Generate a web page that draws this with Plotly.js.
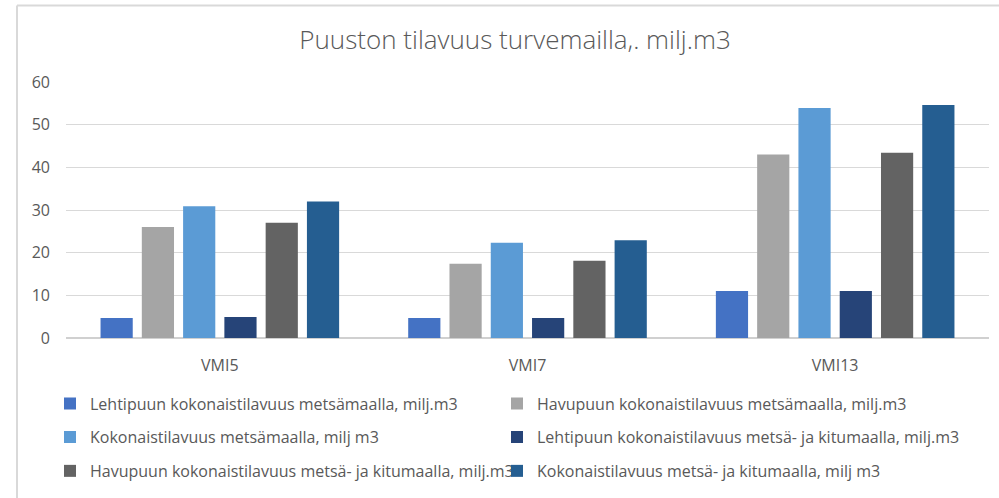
<!DOCTYPE html>
<html>
<head>
<meta charset="utf-8">
<script src="https://cdn.plot.ly/plotly-3.0.1.min.js"></script>
<style>
  html, body { margin: 0; padding: 0; background: #ffffff; }
  #chart { width: 999px; height: 498px; }
</style>
</head>
<body>
<div id="chart"></div>
<script>
const categories = ['VMI5', 'VMI7', 'VMI13'];
const seriesNames = [
  'Lehtipuun kokonaistilavuus metsämaalla, milj.m3',
  'Havupuun kokonaistilavuus metsämaalla, milj.m3',
  'Kokonaistilavuus metsämaalla, milj m3',
  'Lehtipuun kokonaistilavuus metsä- ja kitumaalla, milj.m3',
  'Havupuun kokonaistilavuus metsä- ja kitumaalla, milj.m3',
  'Kokonaistilavuus metsä- ja kitumaalla, milj m3'
];
const lehtiMetsa = [4.7, 4.7, 11.0];
const havuMetsa = [26.0, 17.4, 43.0];
const kokoMetsa = [30.9, 22.3, 53.9];
const lehtiKitu = [4.9, 4.7, 11.0];
const havuKitu = [27.0, 18.1, 43.4];
const kokoKitu = [32.0, 22.9, 54.6];
const seriesValues = [lehtiMetsa, havuMetsa, kokoMetsa, lehtiKitu, havuKitu, kokoKitu];
const seriesColors = ['#4472c4', '#a5a5a5', '#5b9bd5', '#264478', '#636363', '#255e91'];

// plot area in pixels, used to place legends and the outer frame
const plotLeft = 66;
const plotWidth = 923;
const plotBottom = 340;
const plotHeight = 258;

function paperX(px) {
  return (px - plotLeft) / plotWidth;
}

function paperY(py) {
  return (plotBottom - py) / plotHeight;
}

// legend text start positions (px) for each series, Excel-like two columns
const legendSpots = [[90, 406], [537, 406], [90, 440], [537, 440], [90, 474], [537, 474]];

const textColor = '#595959';
const font = '"Open Sans", Lato, sans-serif';

const data = seriesNames.map((name, i) => ({
  type: 'bar',
  name: name,
  x: categories,
  y: seriesValues[i],
  legend: i === 0 ? 'legend' : `legend${i + 1}`,
  marker: { color: seriesColors[i] },
  hoverinfo: 'name+y'
}));

const layout = {
  width: 999,
  height: 498,
  margin: { l: plotLeft, r: 999 - plotLeft - plotWidth, t: plotBottom - plotHeight, b: 498 - plotBottom },
  paper_bgcolor: '#ffffff',
  plot_bgcolor: '#ffffff',
  font: { family: font, size: 15, color: textColor },
  title: {
    text: 'Puuston tilavuus turvemailla,. milj.m3',
    font: { family: font, size: 26, color: textColor, weight: 300 },
    x: paperX(515),
    xref: 'paper',
    xanchor: 'center',
    y: 1 - 40 / 498,
    yanchor: 'middle'
  },
  barmode: 'group',
  bargap: 0.195,
  bargroupgap: 0.22,
  xaxis: {
    showgrid: false,
    zeroline: false,
    showline: false,
    ticks: '',
    ticklabelstandoff: 16,
    tickfont: { size: 16, color: textColor }
  },
  yaxis: {
    range: [0, 60],
    dtick: 10,
    gridcolor: '#d9d9d9',
    gridwidth: 1,
    zeroline: true,
    zerolinecolor: '#d0d0d0',
    zerolinewidth: 1.5,
    showline: false,
    ticks: '',
    ticklabelstandoff: 15,
    tickfont: { size: 16, color: textColor }
  },
  shapes: [
    {
      type: 'line', xref: 'paper', yref: 'paper',
      x0: paperX(17), x1: paperX(1010), y0: paperY(5), y1: paperY(5),
      line: { color: '#d9d9d9', width: 2 }
    },
    {
      type: 'line', xref: 'paper', yref: 'paper',
      x0: paperX(17), x1: paperX(17), y0: paperY(5), y1: paperY(510),
      line: { color: '#d9d9d9', width: 2 }
    }
  ],
  showlegend: true
};

legendSpots.forEach(([px, py], i) => {
  const key = i === 0 ? 'legend' : `legend${i + 1}`;
  layout[key] = {
    x: paperX(px - 40),
    xanchor: 'left',
    y: paperY(py),
    yanchor: 'middle',
    orientation: 'h',
    bgcolor: 'rgba(0,0,0,0)',
    itemwidth: 30,
    font: { family: font, size: 16, color: textColor }
  };
});

Plotly.newPlot('chart', data, layout, { displayModeBar: false, staticPlot: true });
</script>
</body>
</html>
